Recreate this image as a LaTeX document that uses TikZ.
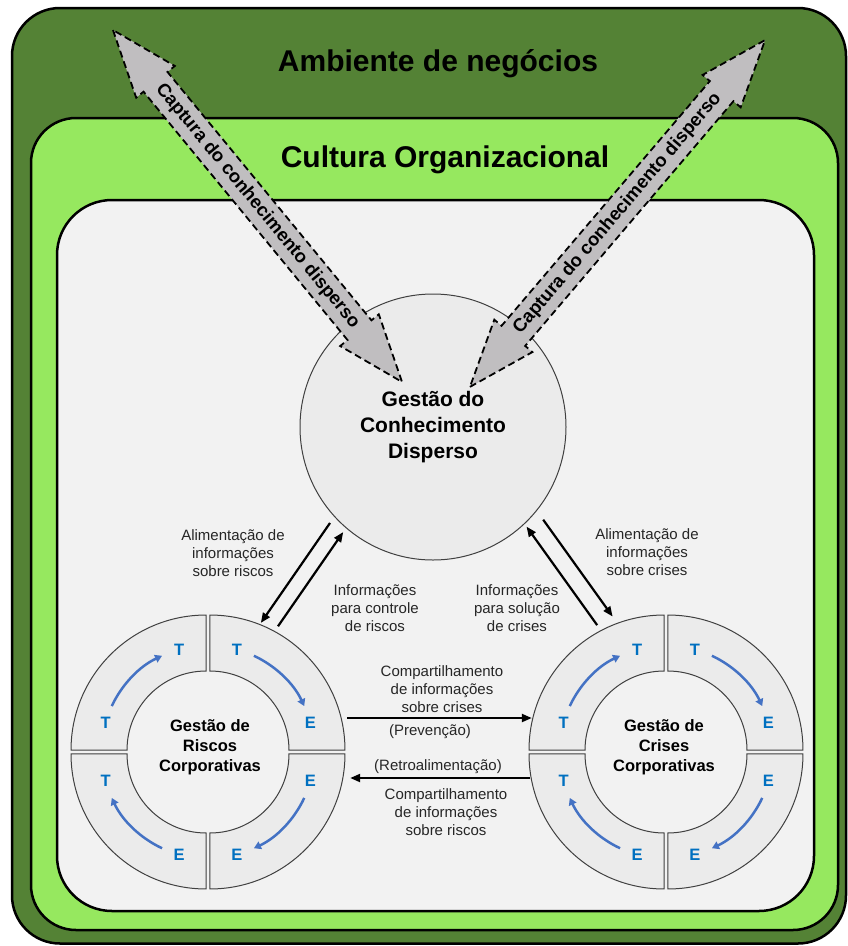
\documentclass[tikz,border=0pt]{standalone}
\usepackage{fontspec}
\setmainfont{Liberation Sans}
\usetikzlibrary{arrows.meta}

\definecolor{envgreen}{HTML}{548235}
\definecolor{culturegreen}{HTML}{96E85F}
\definecolor{corepanel}{HTML}{F2F2F2}
\definecolor{segfill}{HTML}{EBEBEB}
\definecolor{segline}{HTML}{404040}
\definecolor{capturegray}{HTML}{C0BEC0}
\definecolor{cycleblue}{HTML}{4472C4}
\definecolor{letterblue}{HTML}{0070C0}
\definecolor{labeltext}{HTML}{262626}

\begin{document}
\begin{tikzpicture}[x=1pt, y=-1pt,
  layerbox/.style={draw=black, line width=2.5pt},
  bigtitle/.style={font=\fontsize{30}{36}\selectfont\bfseries, inner sep=0pt},
  hub/.style={circle, draw=segline, line width=1pt, fill=segfill, minimum size=266pt, inner sep=0pt,
    align=center, font=\fontsize{21}{26}\selectfont\bfseries},
  ringzone/.style={circle, minimum size=270pt, inner sep=0pt},
  ringtitle/.style={align=center, inner sep=0pt, font=\fontsize{16.5}{20}\selectfont\bfseries},
  segment/.style={draw=segline, line width=1pt, fill=segfill},
  cyclearrow/.style={draw=cycleblue, line width=2.5pt, -{Triangle[length=7pt,width=8pt]}},
  phase/.style={text=letterblue, inner sep=0pt, font=\fontsize{16.5}{18}\selectfont\bfseries},
  captureshape/.style={draw=black, fill=capturegray, line width=1.8pt, dash pattern=on 7pt off 4pt, line join=miter},
  capturetext/.style={inner sep=0pt, font=\fontsize{18.5}{20}\selectfont\bfseries},
  note/.style={align=center, inner sep=0pt, text=labeltext, font=\fontsize{15}{18}\selectfont},
  flow/.style={draw=black, line width=2.2pt, -{Triangle[length=10pt,width=8pt]}}
]
\useasboundingbox (0,0) rectangle (848,946);
\fill[white] (0,0) rectangle (848,946);

% nested environment layers
\draw[layerbox, fill=envgreen, rounded corners=48pt] (12,8) rectangle (846,943.5);
\draw[layerbox, fill=culturegreen, rounded corners=45pt] (31,118) rectangle (838,930);
\draw[layerbox, fill=corepanel, rounded corners=55pt] (57,200) rectangle (814,911);

\node[bigtitle] (envtitle) at (438,64) {Ambiente de negócios};
\node[bigtitle] (culttitle) at (445,160) {Cultura Organizacional};

% central knowledge hub
\node[hub] (gcd) at (433,427) {Gestão do\\Conhecimento\\Disperso};

% double block arrows capturing dispersed knowledge
\begin{scope}[shift={(257.5,206)}, rotate=-50.6]
  \draw[captureshape] (-227.7,0) -- (-160.7,25) -- (-160.7,15.5) -- (160.7,15.5) -- (160.7,25)
    -- (227.7,0) -- (160.7,-25) -- (160.7,-15.5) -- (-160.7,-15.5) -- (-160.7,-25) -- cycle;
\end{scope}
\node[capturetext, rotate=-50.6] (captureleft) at (257.5,206) {Captura do conhecimento disperso};

\begin{scope}[shift={(617.5,213.5)}, rotate=49.6]
  \draw[captureshape] (-227.7,0) -- (-160.7,25) -- (-160.7,15.5) -- (160.7,15.5) -- (160.7,25)
    -- (227.7,0) -- (160.7,-25) -- (160.7,-15.5) -- (-160.7,-15.5) -- (-160.7,-25) -- cycle;
\end{scope}
\node[capturetext, rotate=49.6] (captureright) at (617.5,213.5) {Captura do conhecimento disperso};

% the two management cycles, four exploded ring segments each
\node[ringzone] (riskring) at (208,752) {};
\node[ringzone] (crisisring) at (666,752) {};

\foreach \cx in {208,666} {
  \foreach \qa/\lettA/\lettB in {-180/T/T, -90/T/E, 0/E/E, 90/E/T} {
    \begin{scope}[shift={(\cx,752)}, shift={({\qa+45}:2.8)}]
      \draw[segment] (\qa:79) -- (\qa:135) arc[start angle=\qa, end angle=\qa+90, radius=135]
        -- ({\qa+90}:79) arc[start angle=\qa+90, end angle=\qa, radius=79] -- cycle;
      \draw[cyclearrow] ({\qa+25}:104) arc[start angle=\qa+25, end angle=\qa+65, radius=104];
      \node[phase] at ({\qa+15}:104) {\lettA};
      \node[phase] at ({\qa+75}:104) {\lettB};
    \end{scope}
  }
}

\node[ringtitle] (risktitle) at (210,747) {Gestão de\\Riscos\\Corporativas};
\node[ringtitle] (crisistitle) at (664,747) {Gestão de\\Crises\\Corporativas};

% information flows between hub and cycles
\draw[flow, transform canvas={shift={(-24.7,-17.1)}}, shorten <=4pt, shorten >=1pt] (gcd) -- (riskring);
\draw[flow, transform canvas={shift={(-11.5,-8)}}, shorten <=8pt, shorten >=4pt] (riskring) -- (gcd);
\draw[flow, transform canvas={shift={(14.6,-10.5)}}, shorten <=8pt, shorten >=2pt] (crisisring) -- (gcd);
\draw[flow, transform canvas={shift={(28.9,-20.7)}}, shorten <=6pt, shorten >=6pt] (gcd) -- (crisisring);

% exchange between the two cycles
\draw[flow] ([xshift=4pt,yshift=34pt]riskring.east) -- ([xshift=1pt,yshift=34pt]crisisring.west);
\draw[flow] ([xshift=-1pt,yshift=-26pt]crisisring.west) -- ([xshift=7pt,yshift=-26pt]riskring.east);

\node[note] (feedrisk) at (233,553) {Alimentação de\\informações\\sobre riscos};
\node[note] (ctrlrisk) at (375,608) {Informações\\para controle\\de riscos};
\node[note] (feedcrisis) at (647,552) {Alimentação de\\informações\\sobre crises};
\node[note] (solvecrisis) at (517,608) {Informações\\para solução\\de crises};
\node[note] (sharecrisis) at (442,689) {Compartilhamento\\de informações\\sobre crises};
\node[note] (prevent) at (430,732) {(Prevenção)};
\node[note] (feedback) at (438,767) {(Retroalimentação)};
\node[note] (sharerisk) at (446,812) {Compartilhamento\\de informações\\sobre riscos};
\end{tikzpicture}
\end{document}
